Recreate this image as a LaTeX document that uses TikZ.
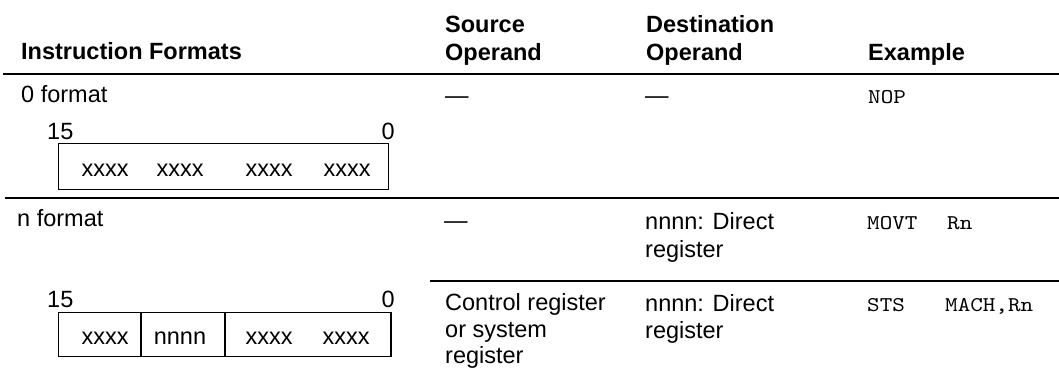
\documentclass[tikz,border=0pt]{standalone}
\usepackage{fontspec}
\setmainfont{Liberation Sans}
\setmonofont[FakeStretch=1.14]{lmmono10-regular.otf}
\begin{document}
\begin{tikzpicture}[x=1pt,y=-1pt,
  txt/.style={anchor=base west, inner sep=0pt, font=\fontsize{23.5}{27}\selectfont},
  hdr/.style={txt, font=\bfseries\fontsize{23.5}{27}\selectfont},
  mono/.style={txt, font=\ttfamily\fontsize{21}{27}\selectfont},
  fld/.style={anchor=base, inner sep=0pt, font=\fontsize{23.5}{27}\selectfont},
  rulethick/.style={line width=2.4pt},
  rulethin/.style={line width=1.8pt},
  boxline/.style={draw, line width=1.2pt, inner sep=0pt, anchor=north west}]
\useasboundingbox (0,0) rectangle (1059,381);
% header
\node[hdr] (hif) at (21,59.5) {Instruction Formats};
\node[hdr] (hsrc1) at (445,32) {Source};
\node[hdr] (hsrc2) at (445,60) {Operand};
\node[hdr] (hdst1) at (646,32) {Destination};
\node[hdr] (hdst2) at (646,60) {Operand};
\node[hdr] (hex) at (868,60) {Example};
\coordinate (r1a) at (3,74);
\coordinate (r1b) at (1059,74);
\draw[rulethick] (r1a) -- (r1b);
% 0 format
\node[txt] (f0) at (21,102.5) {0 format};
\node[txt] (s0) at (445,103) {—};
\node[txt] (d0) at (645,103) {—};
\node[mono] (e0) at (868,103) {NOP};
\node[txt] (b0hi) at (47,139.5) {15};
\node[txt, anchor=base east] (b0lo) at (395,139.5) {0};
\node[boxline, minimum width=330pt, minimum height=46pt] (box0) at (58,143) {};
\node[fld] (x01) at (105,176) {xxxx};
\node[fld] (x02) at (180,176) {xxxx};
\node[fld] (x03) at (269,176) {xxxx};
\node[fld] (x04) at (347,176) {xxxx};
\coordinate (r2a) at (5,198);
\coordinate (r2b) at (1059,198);
\draw[rulethin] (r2a) -- (r2b);
% n format
\node[txt] (fn) at (17,226.5) {n format};
\node[txt] (s1) at (444,228) {—};
\node[txt] (d1a) at (645,229.5) {nnnn: Direct};
\node[txt] (d1b) at (645,257) {register};
\node[mono] (e1a) at (867,229) {MOVT};
\node[mono] (e1b) at (947,229) {Rn};
\coordinate (r3a) at (430,281);
\coordinate (r3b) at (1059,281);
\draw[rulethin] (r3a) -- (r3b);
\node[txt] (s2a) at (445,310.5) {Control register};
\node[txt] (s2b) at (445,337) {or system};
\node[txt] (s2c) at (445,363) {register};
\node[txt] (d2a) at (645,311) {nnnn: Direct};
\node[txt] (d2b) at (645,338) {register};
\node[mono] (e2a) at (867,311.5) {STS};
\node[mono] (e2b) at (945,311.5) {MACH,Rn};
\node[txt] (bnhi) at (47,307) {15};
\node[txt, anchor=base east] (bnlo) at (395,307) {0};
\node[boxline, minimum width=82pt, minimum height=44pt] (bn1) at (58,312) {};
\node[boxline, minimum width=82.7pt, minimum height=44pt] (bn2) at (bn1.north east) {};
\node[boxline, minimum width=165.3pt, minimum height=44pt] (bn3) at (bn2.north east) {};
\node[fld] (xn1) at (105,344) {xxxx};
\node[fld] (xn2) at (180,344) {nnnn};
\node[fld] (xn3) at (269,344) {xxxx};
\node[fld] (xn4) at (346,344) {xxxx};
\end{tikzpicture}
\end{document}
